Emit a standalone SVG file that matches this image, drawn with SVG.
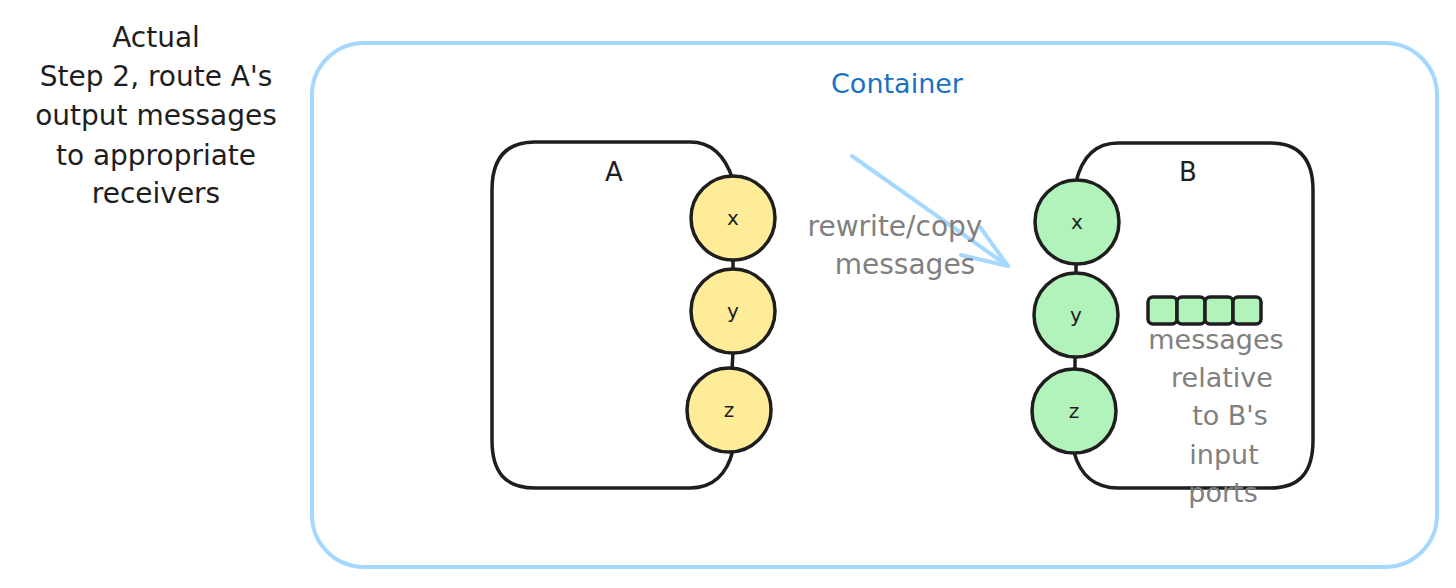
<svg xmlns="http://www.w3.org/2000/svg" width="1456" height="588" viewBox="0 0 1456 588">
<defs>
<style>
.hand{font-family:"DejaVu Sans","Liberation Sans",sans-serif;}
.title{font-size:28px;fill:#1e1e1e;text-anchor:middle;}
.gray{font-size:27px;fill:#808080;text-anchor:middle;}
.box{fill:#ffffff;stroke:#1e1e1e;stroke-width:3.5;}
.portA{fill:#ffec99;stroke:#1e1e1e;stroke-width:3.5;}
.portB{fill:#b2f2bb;stroke:#1e1e1e;stroke-width:3.5;}
.lbl{font-size:26px;fill:#1e1e1e;text-anchor:middle;}
.plbl{font-size:20px;fill:#1e1e1e;text-anchor:middle;}
.link{stroke:#1e1e1e;stroke-width:3.5;}
.arrow{stroke:#a5d8ff;stroke-width:4;fill:none;stroke-linecap:round;stroke-linejoin:round;}
.msg{fill:#b2f2bb;stroke:#1e1e1e;stroke-width:3.5;}
</style>
</defs>
<rect width="1456" height="588" fill="#ffffff"/>

<g id="caption" class="hand title">
<text x="156" y="47">Actual</text>
<text x="156" y="86">Step 2, route A's</text>
<text x="156" y="125">output messages</text>
<text x="156" y="165">to appropriate</text>
<text x="156" y="203">receivers</text>
</g>

<g id="container">
<rect x="312" y="43" width="1125" height="524" rx="52" ry="52" fill="none" stroke="#a5d8ff" stroke-width="4"/>
<text class="hand" x="897" y="93" font-size="27" fill="#1971c2" text-anchor="middle">Container</text>
</g>

<g id="nodeA">
<path class="box" d="M733,180 C725,155 710,142 690,142 L535,142 C505,142 492,160 492,190 L492,440 C492,472 505,488 535,488 L690,488 C712,488 727,475 733,450"/>
<text class="hand lbl" x="614" y="181">A</text>
<line class="link" x1="733" y1="258" x2="733" y2="272"/>
<line class="link" x1="733" y1="352" x2="732" y2="370"/>
<g id="A-x"><circle class="portA" cx="733" cy="218" r="42"/><text class="hand plbl" x="733" y="225">x</text></g>
<g id="A-y"><circle class="portA" cx="733" cy="311" r="42"/><text class="hand plbl" x="733" y="318">y</text></g>
<g id="A-z"><circle class="portA" cx="729" cy="410" r="42"/><text class="hand plbl" x="729" y="417">z</text></g>
</g>

<g id="nodeB">
<path class="box" d="M1076,182 C1082,157 1095,143 1118,143 L1270,143 C1300,143 1313,160 1313,190 L1313,440 C1313,472 1300,488 1270,488 L1118,488 C1095,488 1080,475 1074,452"/>
<text class="hand lbl" x="1188" y="181">B</text>
<line class="link" x1="1076" y1="262" x2="1076" y2="275"/>
<line class="link" x1="1075" y1="355" x2="1075" y2="371"/>
<g id="B-x"><circle class="portB" cx="1077" cy="222" r="42"/><text class="hand plbl" x="1077" y="229">x</text></g>
<g id="B-y"><circle class="portB" cx="1076" cy="315" r="42"/><text class="hand plbl" x="1076" y="322">y</text></g>
<g id="B-z"><circle class="portB" cx="1074" cy="411" r="42"/><text class="hand plbl" x="1074" y="418">z</text></g>
</g>

<g id="queue">
<rect class="msg" x="1148" y="297" width="29" height="27" rx="5"/>
<rect class="msg" x="1177" y="297" width="28" height="27" rx="5"/>
<rect class="msg" x="1205" y="297" width="28" height="27" rx="5"/>
<rect class="msg" x="1233" y="297" width="28" height="27" rx="5"/>
<g class="hand gray">
<text x="1216" y="349">messages</text>
<text x="1222" y="387">relative</text>
<text x="1230" y="425">to B's</text>
<text x="1224" y="464">input</text>
<text x="1223" y="502">ports</text>
</g>
</g>

<g id="connectors">
<path class="arrow" d="M852,156 L1008,266"/>
<path class="arrow" d="M980,227 L1008,266 L961,255"/>
</g>

<g id="arrow-label" class="hand gray" font-size="28">
<text x="895" y="236" style="font-size:28px">rewrite/copy</text>
<text x="905" y="274" style="font-size:28px">messages</text>
</g>
</svg>
